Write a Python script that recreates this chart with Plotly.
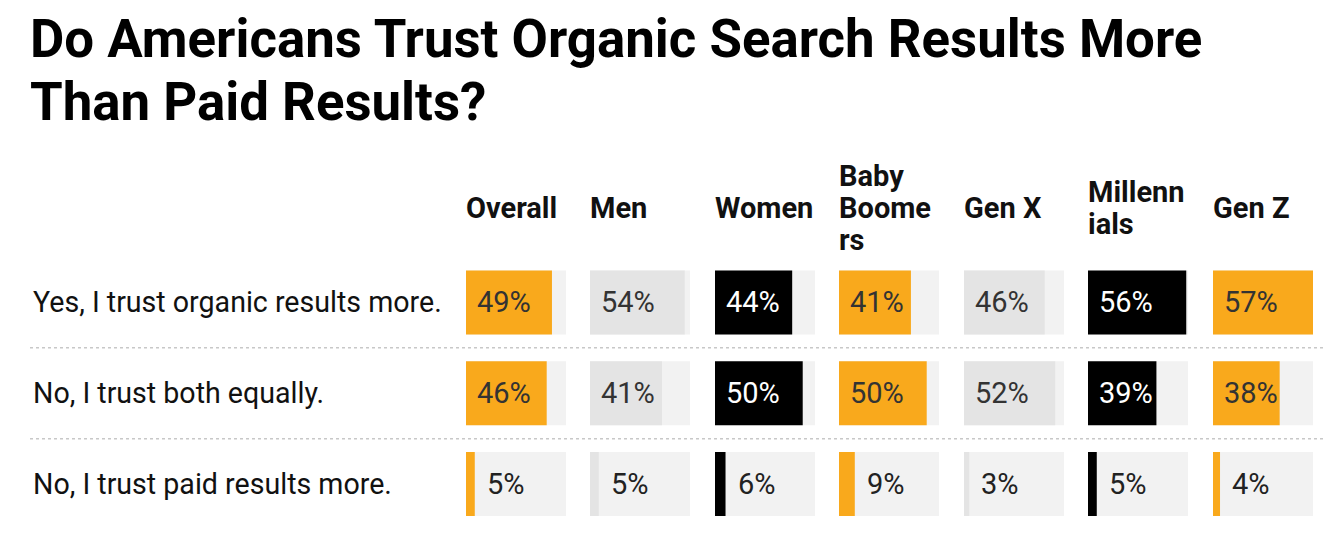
import plotly.graph_objects as go

W, H = 1339, 548
OFF = 8  # page body margin in the browser

title_lines = ["Do Americans Trust Organic Search Results More", "Than Paid Results?"]
groups = ["Overall", "Men", "Women", "Baby Boomers", "Gen X", "Millennials", "Gen Z"]
group_header_lines = [["Overall"], ["Men"], ["Women"], ["Baby", "Boome", "rs"], ["Gen X"],
                      ["Millenn", "ials"], ["Gen Z"]]
answers = ["Yes, I trust organic results more.", "No, I trust both equally.", "No, I trust paid results more."]

overall = [49, 46, 5]
men = [54, 41, 5]
women = [44, 50, 6]
baby_boomers = [41, 50, 9]
gen_x = [46, 52, 3]
millennials = [56, 39, 5]
gen_z = [57, 38, 4]
values = [overall, men, women, baby_boomers, gen_x, millennials, gen_z]

ORANGE = "#F9A91C"
BLACK = "#000000"
GRAY = "#E4E4E4"
TRACK = "#F2F2F2"
bar_colors = [ORANGE, GRAY, BLACK, ORANGE, GRAY, BLACK, ORANGE]
text_colors = ["#333333", "#333333", "#FFFFFF", "#333333", "#333333", "#FFFFFF", "#333333"]

scale_max = max(max(v) for v in values)
font = "Roboto, Arial, sans-serif"


def px_x(px):
    return (px - OFF) / W


def px_y(py):
    return 1 - (py - OFF) / H


col_left_px = [466, 590, 715, 839, 964, 1088, 1213]
col_w_px = 100
rows_top_px, rows_bot_px = 257, 529.5

fig = go.Figure()
layout = dict(
    width=W, height=H,
    margin=dict(l=0, r=0, t=0, b=0),
    paper_bgcolor="white", plot_bgcolor="white",
    barmode="overlay", showlegend=False,
    yaxis=dict(domain=[px_y(rows_bot_px), px_y(rows_top_px)], range=[2.5, -0.5],
               visible=False, fixedrange=True, anchor="x"),
)
annotations = []
ys = list(range(len(answers)))
HDR_SIZE = 29
hdr_baseline = 219
hdr_spacing = 32
for i, g in enumerate(groups):
    ax = "x" if i == 0 else f"x{i+1}"
    key = "xaxis" if i == 0 else f"xaxis{i+1}"
    layout[key] = dict(domain=[px_x(col_left_px[i]), px_x(col_left_px[i] + col_w_px)],
                       range=[0, scale_max], visible=False, fixedrange=True, anchor="y")
    fig.add_trace(go.Bar(x=[scale_max] * len(answers), y=ys, orientation="h", width=0.705,
                         marker=dict(color=TRACK, line=dict(width=0)), xaxis=ax, yaxis="y",
                         hoverinfo="skip"))
    fig.add_trace(go.Bar(x=values[i], y=ys, orientation="h", width=0.705,
                         marker=dict(color=bar_colors[i], line=dict(width=0)), xaxis=ax, yaxis="y",
                         name=g))
    for r, v in enumerate(values[i]):
        inside = v > 20
        annotations.append(dict(
            xref=ax, yref="y", x=0 if inside else v, y=r, xanchor="left", yanchor="middle",
            xshift=9 if inside else 10, showarrow=False, text=f"{v}%",
            font=dict(family=font, size=29, color=text_colors[i] if inside else "#222222")))
    lines = group_header_lines[i]
    n = len(lines)
    for k, line in enumerate(lines):
        base = hdr_baseline + (k - (n - 1) / 2) * hdr_spacing
        annotations.append(dict(
            xref=ax, yref="paper", x=0, y=px_y(base + 8), xanchor="left", yanchor="bottom",
            xshift=-2, showarrow=False, text=f"<b>{line}</b>", align="left",
            font=dict(family=font, size=HDR_SIZE, color="#111111")))

for r, a in enumerate(answers):
    annotations.append(dict(xref="paper", yref="y", x=px_x(31), y=r, xanchor="left", yanchor="middle",
                            showarrow=False, text=a, font=dict(family=font, size=28.6, color="#111111")))

TITLE_SIZE = 52.8
title_baselines = [58, 121]
for line, base in zip(title_lines, title_baselines):
    annotations.append(dict(xref="paper", yref="paper", x=px_x(28), y=px_y(base + 14), xanchor="left",
                            yanchor="bottom", showarrow=False, text=f"<b>{line}</b>", align="left",
                            font=dict(family=font, size=TITLE_SIZE, color="#000000")))

shapes = []
for yy in [0.5, 1.5]:
    shapes.append(dict(type="line", xref="paper", yref="y", x0=px_x(30), x1=px_x(1325), y0=yy, y1=yy,
                       line=dict(color="#C8C8C8", width=1.5, dash="dot")))

layout["annotations"] = annotations
layout["shapes"] = shapes
fig.update_layout(**layout)
fig.write_html("out.html")
